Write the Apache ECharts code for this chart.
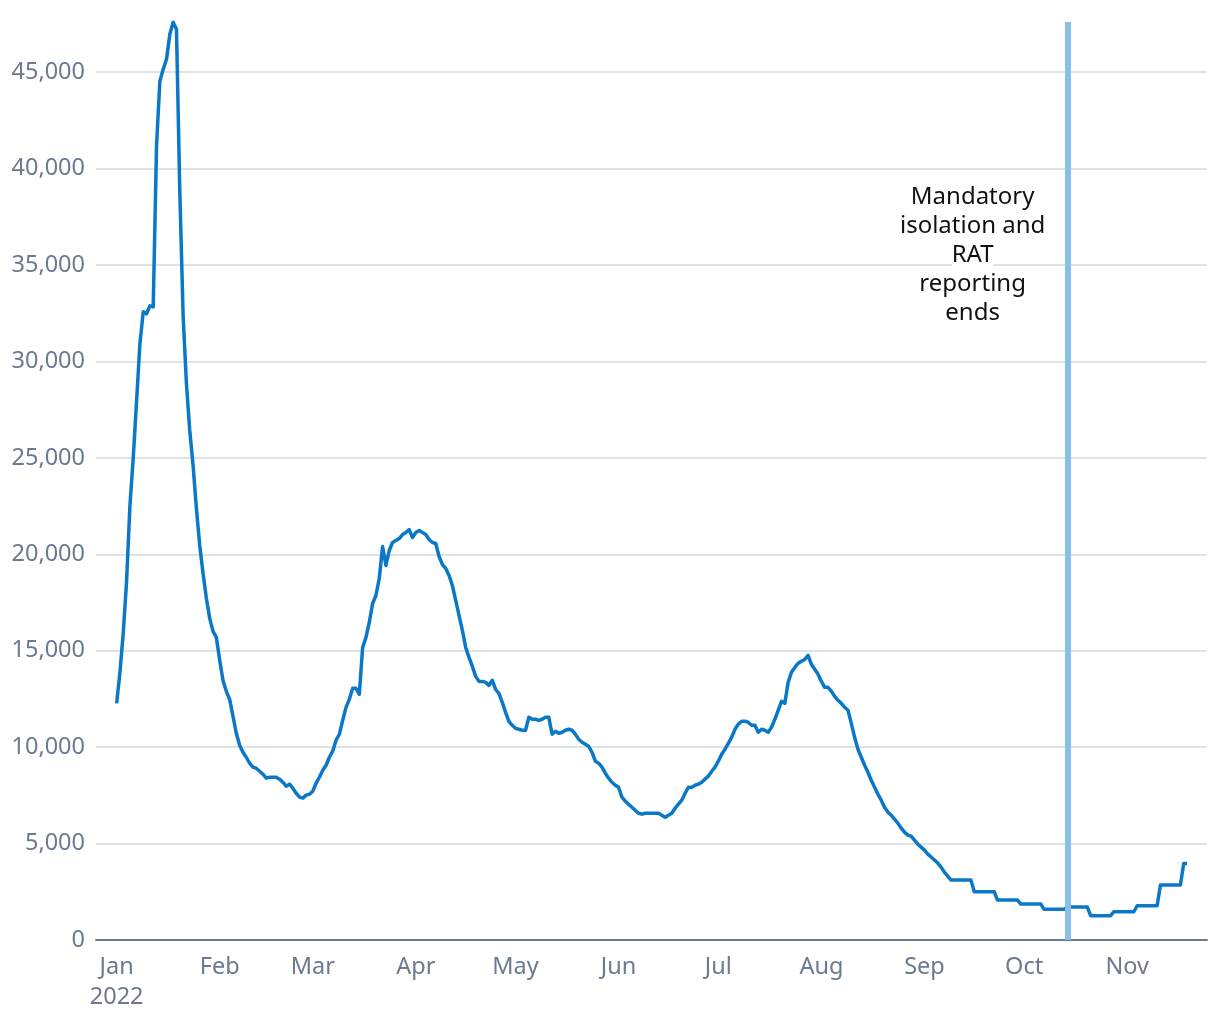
<!DOCTYPE html>
<html>
<head>
<meta charset="utf-8">
<script src="https://cdn.jsdelivr.net/npm/echarts@6/dist/echarts.min.js"></script>
<style>
  html, body { margin: 0; padding: 0; background: #ffffff; }
  #chart { width: 1220px; height: 1020px; }
</style>
</head>
<body>
<div id="chart"></div>
<script>
// ---- Data ----
// Daily 7-day average of new cases, starting 1 Jan 2022
const startDate = [2022, 0, 1];
const cases = [
  12270, 13880, 15950, 18640, 22525, 25010, 27960, 30910, 32570, 32470, 32880, 32830,
  41170, 44530, 45150, 45670, 46970, 47590, 47230, 38840, 32365, 28840,
  26410, 24600, 22370, 20455, 19000, 17710, 16675, 16000, 15690,
  14500, 13460, 12895, 12480, 11600, 10720, 10100, 9735, 9475, 9165, 8960, 8905, 8750, 8595, 8390,
  8440, 8440, 8440, 8340, 8180, 7975, 8080, 7870, 7610, 7405, 7355, 7510, 7560, 7715,
  8130, 8440, 8805, 9060, 9475, 9790, 10357, 10670, 11390, 12065, 12480, 13050, 13050, 12740,
  15170, 15690, 16465, 17450, 17865, 18745, 20400, 19420, 20195, 20610, 20715, 20815, 21025, 21130, 21280, 20870,
  21130, 21230, 21130, 21025, 20765, 20610, 20560, 19885, 19470, 19265, 18900, 18380, 17605, 16830, 16055, 15170,
  14655, 14190, 13670, 13410, 13410, 13360, 13205, 13465, 12995, 12790, 12325, 11805, 11340, 11135,
  10980, 10925, 10875, 10875, 11550, 11445, 11445, 11390, 11445, 11550, 11550, 10670, 10825, 10720, 10770, 10875,
  10925, 10875, 10670, 10410, 10255, 10150, 10045, 9735, 9270, 9165, 8960, 8650, 8390, 8180, 8025,
  7920, 7405, 7200, 7040, 6885, 6730, 6575, 6525, 6575, 6575, 6575, 6575, 6575, 6470, 6370, 6470, 6575,
  6835, 7040, 7250, 7610, 7920, 7920, 8025, 8080, 8180, 8340, 8495, 8750, 8960, 9270,
  9630, 9890, 10200, 10510, 10925, 11185, 11340, 11340, 11290, 11135, 11135, 10770, 10925, 10875, 10770, 11030,
  11445, 11910, 12375, 12270, 13360, 13880, 14135, 14345, 14450, 14550, 14760, 14290, 14035, 13775, 13410,
  13100, 13100, 12895, 12635, 12430, 12270, 12065, 11910, 11235, 10510, 9890, 9475, 9060, 8700, 8285, 7920,
  7560, 7250, 6885, 6630, 6470, 6265, 6060, 5800, 5590, 5440, 5385, 5180, 4970, 4815, 4660,
  4455, 4300, 4145, 3990, 3780, 3520, 3315,
  3105, 3105, 3105, 3105, 3105, 3105, 3105,
  2500, 2500, 2500, 2500, 2500, 2500, 2500,
  2070, 2070, 2070, 2070, 2070, 2070, 2070,
  1865, 1865, 1865, 1865, 1865, 1865, 1865,
  1590, 1590, 1590, 1590, 1590, 1590, 1590,
  1710, 1710, 1710, 1710, 1710, 1710, 1710,
  1260, 1260, 1260, 1260, 1260, 1260, 1260,
  1465, 1465, 1465, 1465, 1465, 1465, 1465,
  1775, 1775, 1775, 1775, 1775, 1775, 1775,
  2850, 2850, 2850, 2850, 2850, 2850, 2850,
  3970, 3970
];
const monthNames = ['Jan','Feb','Mar','Apr','May','Jun','Jul','Aug','Sep','Oct','Nov','Dec'];
const yTicks = [0, 5000, 10000, 15000, 20000, 25000, 30000, 35000, 40000, 45000];
const eventDate = [2022, 9, 14];           // vertical marker
const annotationLines = ['Mandatory', 'isolation and', 'RAT', 'reporting', 'ends'];
const annotationAnchor = { date: [2022, 8, 15, 12], value: 35500 };
const xRange = { min: [2021, 11, 25, 19], max: [2022, 10, 25] };
const yMax = 47600;

// ---- Build series table ----
const seriesData = cases.map((v, i) => {
  const d = new Date(startDate[0], startDate[1], startDate[2] + i);
  return [d.getTime(), v];
});
const toTime = a => new Date(a[0], a[1], a[2], a[3] || 0).getTime();

const FONT = 'Noto Sans';
const chart = echarts.init(document.getElementById('chart'), null, { renderer: 'canvas' });

chart.setOption({
  animation: false,
  backgroundColor: '#ffffff',
  grid: { left: 96, right: 13, top: 22, bottom: 80, containLabel: false },
  xAxis: {
    type: 'time',
    min: toTime(xRange.min),
    max: toTime(xRange.max),
    splitNumber: 11,
    minInterval: 28 * 24 * 3600 * 1000,
    axisLine: { show: true, lineStyle: { color: '#6a7a90', width: 2 } },
    axisTick: { show: false },
    splitLine: { show: false },
    axisLabel: {
      color: '#6b7a8f',
      fontFamily: FONT,
      fontSize: 23.5,
      lineHeight: 30,
      margin: 12,
      hideOverlap: false,
      showMinLabel: false,
      showMaxLabel: false,
      formatter: function (val) {
        const d = new Date(val);
        if (d.getDate() !== 1) return '';
        const m = monthNames[d.getMonth()];
        return d.getMonth() === 0 ? m + '\n' + d.getFullYear() : m;
      }
    }
  },
  yAxis: {
    type: 'value',
    min: 0,
    max: yMax,
    interval: 5000,
    axisLine: { show: false },
    axisTick: { show: false },
    splitLine: { show: true, showMaxLine: false, lineStyle: { color: '#d3d8e2', width: 1.5 } },
    axisLabel: {
      color: '#6b7a8f',
      fontFamily: FONT,
      fontSize: 23.5,
      margin: 11,
      showMaxLabel: false,
      formatter: function (v) {
        return yTicks.indexOf(v) >= 0 ? v.toLocaleString('en-US') : '';
      }
    }
  },
  series: [
    {
      type: 'line',
      z: 1,
      data: [],
      silent: true,
      markLine: {
        silent: true,
        symbol: ['none', 'none'],
        label: { show: false },
        lineStyle: { color: '#88c0e8', width: 6, type: 'solid' },
        data: [{ xAxis: toTime(eventDate) }]
      }
    },
    {
      type: 'line',
      z: 3,
      data: seriesData,
      showSymbol: false,
      symbol: 'none',
      lineStyle: { color: '#0a78c6', width: 3.5, join: 'round' },
      itemStyle: { color: '#0a78c6' },
      markPoint: {
        silent: true,
        symbol: 'rect',
        symbolSize: 0,
        itemStyle: { color: 'transparent' },
        data: [{
          coord: [toTime(annotationAnchor.date), annotationAnchor.value],
          label: {
            show: true,
            position: 'inside',
            formatter: annotationLines.map(l => '{t|' + l + '}').join('\n'),
            rich: {
              t: {
                fontFamily: FONT,
                fontSize: 24,
                lineHeight: 29,
                color: '#111111',
                backgroundColor: '#ffffff',
                align: 'center'
              }
            }
          }
        }]
      }
    }
  ]
});
</script>
</body>
</html>
